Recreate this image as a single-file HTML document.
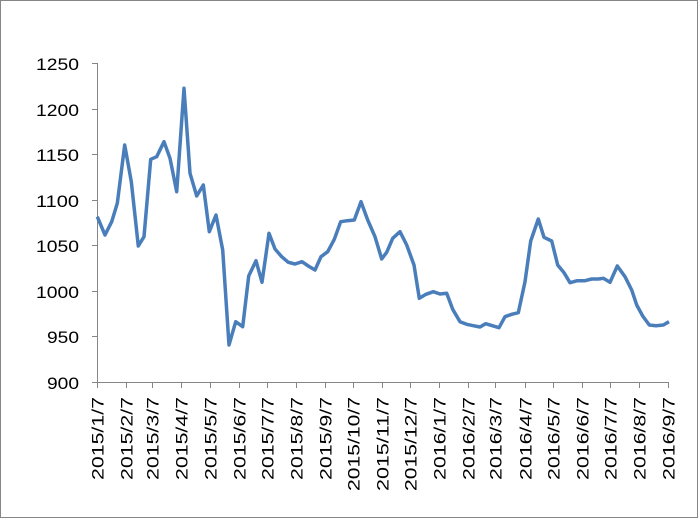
<!DOCTYPE html>
<html><head><meta charset="utf-8"><style>
html,body{margin:0;padding:0;background:#fff}
svg{display:block}
text{font-family:"Liberation Sans",sans-serif;font-size:17px;fill:#000}
</style></head><body>
<svg width="698" height="518" viewBox="0 0 698 518">
<rect x="0.5" y="0.5" width="697" height="517" fill="#fff" stroke="#868686"/>
<g stroke="#868686" stroke-width="1" fill="none">
<line x1="97.5" y1="63" x2="97.5" y2="382"/>
<line x1="97" y1="382.5" x2="669" y2="382.5"/>
<line x1="92" y1="63.5" x2="97" y2="63.5"/>
<line x1="92" y1="109.5" x2="97" y2="109.5"/>
<line x1="92" y1="154.5" x2="97" y2="154.5"/>
<line x1="92" y1="200.5" x2="97" y2="200.5"/>
<line x1="92" y1="245.5" x2="97" y2="245.5"/>
<line x1="92" y1="291.5" x2="97" y2="291.5"/>
<line x1="92" y1="336.5" x2="97" y2="336.5"/>
<line x1="92" y1="382.5" x2="97" y2="382.5"/>
</g>
<g stroke="#868686" stroke-width="1" id="xt"></g>
<g text-anchor="end">
<text x="79" y="70" textLength="43" lengthAdjust="spacingAndGlyphs">1250</text>
<text x="79" y="116" textLength="43" lengthAdjust="spacingAndGlyphs">1200</text>
<text x="79" y="161" textLength="43" lengthAdjust="spacingAndGlyphs">1150</text>
<text x="79" y="207" textLength="43" lengthAdjust="spacingAndGlyphs">1100</text>
<text x="79" y="252" textLength="43" lengthAdjust="spacingAndGlyphs">1050</text>
<text x="79" y="298" textLength="43" lengthAdjust="spacingAndGlyphs">1000</text>
<text x="79" y="343" textLength="32" lengthAdjust="spacingAndGlyphs">950</text>
<text x="79" y="389" textLength="32" lengthAdjust="spacingAndGlyphs">900</text>
</g>
<g id="xl"></g>
<polyline fill="none" stroke="#4a7ebb" stroke-width="3.5" stroke-linejoin="round" points="97.3,216.7 105,235 111.7,221.7 117.3,203.3 124.7,145 131.3,181.7 138.3,246 144,236.7 150.7,159.3 156.7,156.7 164,141.7 170,158.3 176.7,191.7 184,88.3 190,173.3 196.7,196 203.3,185 209.3,231.7 216,215 222.7,250 229,345 235.7,321.7 242.7,326.7 248.7,276 256,260.7 262,282.3 269,233.3 275,249 281.7,256.7 288.3,262.3 295,264 302,261.7 308.3,266 315,270 321,256.7 327.7,251.7 334.3,239.3 340.7,221.7 347.3,220.7 354.3,220 361,201.7 367.7,220 375,236.7 381.7,259 386.7,252.3 392.7,238.3 400,231.7 406.7,245 414,265 419.3,298.3 426,294.3 433.3,291.7 440,294 446.7,293.3 452.7,309.3 460,321.7 466.7,324.3 473.3,325.7 480,327 485.7,323.7 492.3,325.7 499,327.7 505,316.7 511.7,314.3 518.3,312.7 525,281.7 530.7,241 538.3,219 544,237.3 551.7,241 557.7,265 564,272.7 570,282.7 577.3,280.7 585,280.7 591.7,279 598.3,279 603.3,278.3 610,282.3 617.3,266 625,276.7 631.7,290 636.7,305 642.7,316 649.3,325 656,325.7 663.3,325 669,321.7"/>
</svg>
<script>
var xs=[97.3,126.3,152.3,181.3,210.3,239.3,267.3,296.3,325.3,353.3,382.3,410.3,439.3,468.3,495.3,525.3,553.3,582.3,610.3,639.3,668.3];
var lab=["2015/1/7","2015/2/7","2015/3/7","2015/4/7","2015/5/7","2015/6/7","2015/7/7","2015/8/7","2015/9/7","2015/10/7","2015/11/7","2015/12/7","2016/1/7","2016/2/7","2016/3/7","2016/4/7","2016/5/7","2016/6/7","2016/7/7","2016/8/7","2016/9/7"];
var ns="http://www.w3.org/2000/svg",xt=document.getElementById("xt"),xl=document.getElementById("xl");
xs.forEach(function(x,i){var r=Math.round(x)+0.5;var l=document.createElementNS(ns,"line");l.setAttribute("x1",r);l.setAttribute("x2",r);l.setAttribute("y1",382);l.setAttribute("y2",388);xt.appendChild(l);
var t=document.createElementNS(ns,"text");t.setAttribute("transform","translate("+(x+6)+",397) rotate(-90)");t.setAttribute("text-anchor","end");
var len=lab[i].length==8?83:(lab[i].length==9?94:94);t.setAttribute("textLength",len);t.setAttribute("lengthAdjust","spacingAndGlyphs");t.textContent=lab[i];xl.appendChild(t);});
</script>
</body></html>
